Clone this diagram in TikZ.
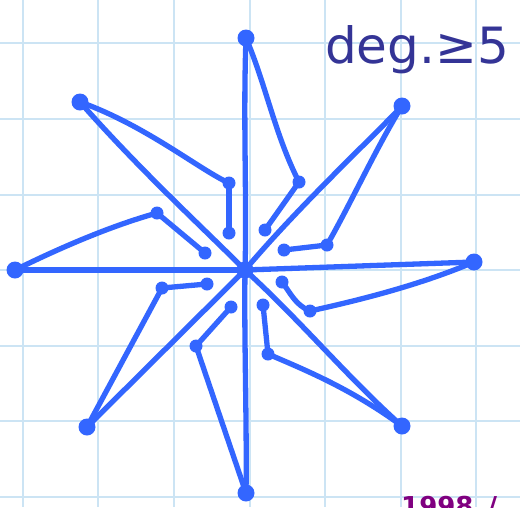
\documentclass[tikz,border=0pt]{standalone}
\usepackage{fontspec}
\newfontfamily\hand{DejaVu Sans}
\definecolor{gridc}{RGB}{204,228,244}
\definecolor{ink}{RGB}{51,102,255}
\definecolor{titlec}{RGB}{52,52,150}
\definecolor{purp}{RGB}{128,0,128}
\tikzset{
  outer/.style={circle,fill=ink,inner sep=0pt,minimum size=17pt},
  hub/.style={circle,fill=ink,inner sep=0pt,minimum size=17pt},
  inner/.style={circle,fill=ink,inner sep=0pt,minimum size=13pt},
  edge/.style={draw=ink,line width=5.3pt,line cap=round,line join=round},
}
\begin{document}
\begin{tikzpicture}[x=1pt,y=-1pt]
\useasboundingbox (0,0) rectangle (520,507);
\clip (0,0) rectangle (520,507);
\fill[white] (0,0) rectangle (520,507);
% grid
\foreach \k in {0,...,6}{
  \draw[gridc,line width=2pt] ({22.7+75.6*\k},0) -- ({22.7+75.6*\k},507);
  \draw[gridc,line width=2pt] (0,{43.3+75.6*\k}) -- (520,{43.3+75.6*\k});
}
% vertices
\node[hub] (c) at (245,270) {};
\node[outer] (o1) at (246,38) {};
\node[outer] (o2) at (402,106) {};
\node[outer] (o3) at (474,262) {};
\node[outer] (o4) at (402,426) {};
\node[outer] (o5) at (246,493) {};
\node[outer] (o6) at (87,427) {};
\node[outer] (o7) at (15,270) {};
\node[outer] (o8) at (80,102) {};
\node[inner] (a1) at (299,182) {};
\node[inner] (b1) at (265,230) {};
\node[inner] (a2) at (327,245) {};
\node[inner] (b2) at (284,250) {};
\node[inner] (a3) at (310,311) {};
\node[inner] (b3) at (282,282) {};
\node[inner] (a4) at (268,354) {};
\node[inner] (b4) at (263,305) {};
\node[inner] (a5) at (196,346) {};
\node[inner] (b5) at (231,307) {};
\node[inner] (a6) at (162,288) {};
\node[inner] (b6) at (207,284) {};
\node[inner] (a7) at (157,213) {};
\node[inner] (b7) at (205,253) {};
\node[inner] (a8) at (229,183) {};
\node[inner] (b8) at (229,233) {};
% spokes
\path[edge] (o1.center) .. controls (243,120) and (247,200) .. (c.center);
\path[edge] (o2.center) .. controls (370,140) and (300,205) .. (c.center);
\path[edge] (o3.center) -- (c.center);
\path[edge] (o4.center) .. controls (350,380) and (300,320) .. (c.center);
\path[edge] (o5.center) .. controls (247,420) and (244,340) .. (c.center);
\path[edge] (o6.center) -- (c.center);
\path[edge] (o7.center) -- (c.center);
\path[edge] (o8.center) .. controls (140,170) and (200,225) .. (c.center);
% outer to inner
\path[edge] (o1.center) .. controls (266,85) and (275,135) .. (a1.center);
\path[edge] (o2.center) .. controls (375,150) and (350,205) .. (a2.center);
\path[edge] (o3.center) .. controls (420,285) and (360,300) .. (a3.center);
\path[edge] (o4.center) .. controls (350,388) and (305,370) .. (a4.center);
\path[edge] (o5.center) -- (a5.center);
\path[edge] (o6.center) -- (a6.center);
\path[edge] (o7.center) .. controls (80,238) and (125,222) .. (a7.center);
\path[edge] (o8.center) .. controls (145,125) and (200,170) .. (a8.center);
% inner pendants
\path[edge] (a1.center) -- (b1.center);
\path[edge] (a2.center) -- (b2.center);
\path[edge] (a3.center) .. controls (295,305) and (290,292) .. (b3.center);
\path[edge] (a4.center) -- (b4.center);
\path[edge] (a5.center) -- (b5.center);
\path[edge] (a6.center) -- (b6.center);
\path[edge] (a7.center) -- (b7.center);
\path[edge] (a8.center) -- (b8.center);
% text
\node[anchor=base west,inner sep=0pt,text=titlec,font=\hand\fontsize{50}{50}\selectfont] (t) at (325,63) {deg.≥5};
\node[anchor=base west,inner sep=0pt,text=purp,font=\hand\bfseries\fontsize{26}{26}\selectfont] (s) at (401,515) {1998\hspace{14pt}/};
\end{tikzpicture}
\end{document}
